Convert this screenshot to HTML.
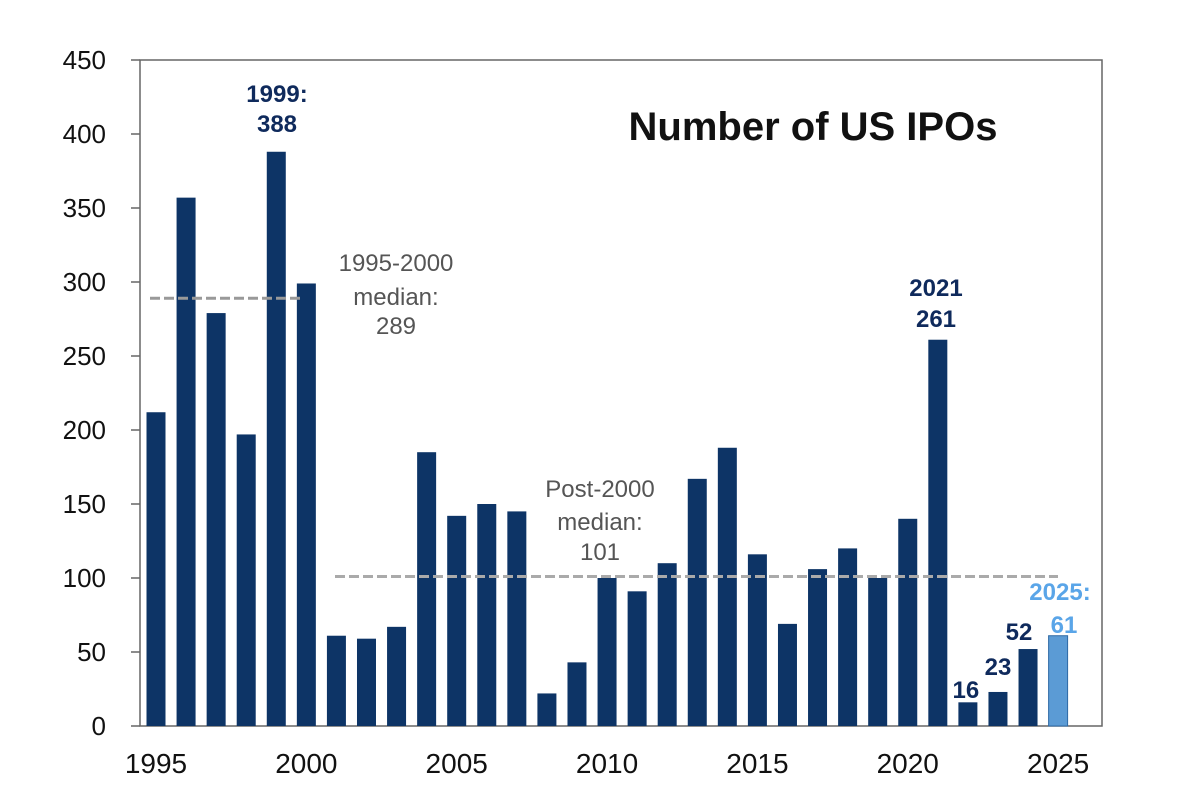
<!DOCTYPE html>
<html><head><meta charset="utf-8"><style>
body{margin:0;background:#fff;width:1182px;height:804px;overflow:hidden;font-family:"Liberation Sans",Arial,sans-serif}
</style></head><body>
<svg id="chart" width="1182" height="804" xmlns="http://www.w3.org/2000/svg" font-family="Liberation Sans, Arial, sans-serif"></svg>
<script>
const years=[1995,1996,1997,1998,1999,2000,2001,2002,2003,2004,2005,2006,2007,2008,2009,2010,2011,2012,2013,2014,2015,2016,2017,2018,2019,2020,2021,2022,2023,2024,2025];
const ipos=[212,357,279,197,388,299,61,59,67,185,142,150,145,22,43,100,91,110,167,188,116,69,106,120,100,140,261,16,23,52,61];
const yTicks=[0,50,100,150,200,250,300,350,400,450];
const xTickYears=[1995,2000,2005,2010,2015,2020,2025];
const medianPre=289, medianPost=101;
const NS='http://www.w3.org/2000/svg';
const svg=document.getElementById('chart');
const L=140,R=1102,B=726,T=60;
const y=v=>B-v*(B-T)/450;
const x=yr=>156+(yr-1995)*30.07;
function el(t,a,txt){const e=document.createElementNS(NS,t);for(const k in a)e.setAttribute(k,a[k]);if(txt!==undefined)e.textContent=txt;svg.appendChild(e);return e;}
let f=el('rect',{x:L,y:T,width:R-L,height:B-T,fill:'none',stroke:'#666','stroke-width':1.5});


yTicks.forEach(v=>{
 let t=el('line',{x1:L-9,x2:L,y1:y(v),y2:y(v),stroke:'#666','stroke-width':1.5});
 
 
 let l=el('text',{x:106,y:y(v)+9,'text-anchor':'end','font-size':26,fill:'#111'},v);
 
 
});
xTickYears.forEach(v=>{
 let l=el('text',{x:x(v),y:773,'text-anchor':'middle','font-size':28,fill:'#111'},v);
 
 
});
years.forEach((yr,i)=>{
 let b=el('rect',{x:x(yr)-9.5,y:y(ipos[i]),width:19,height:B-y(ipos[i]),fill:yr===2025?'#5b9bd5':'#0d3466',stroke:yr===2025?'#2e6aa5':'none'});
 
 
});
let m1=el('line',{x1:150,x2:300,y1:y(medianPre),y2:y(medianPre),stroke:'#999','stroke-width':3,'stroke-dasharray':'10,4'});


let m2=el('line',{x1:335,x2:1058,y1:y(medianPost),y2:y(medianPost),stroke:'#aaa','stroke-width':3,'stroke-dasharray':'10,4'});


function lab(txt,xx,yy,sz,col,w,name){let t=el('text',{x:xx,y:yy,'text-anchor':'middle','font-size':sz,fill:col,'font-weight':w},txt);}
lab('Number of US IPOs',813,140,40,'#111','bold','chart-title');
lab('1999:',277,102,24,'#0f2a5c','bold','label-1999');
lab(ipos[4],277,132,24,'#0f2a5c','bold','label-1999-value');
lab('1995-2000',396,271,24,'#555','normal','median-pre-label');
lab('median:',396,305,24,'#555','normal','median-pre-label');
lab(medianPre,396,334,24,'#555','normal','median-pre-value');
lab('Post-2000',600,497,24,'#555','normal','median-post-label');
lab('median:',600,530,24,'#555','normal','median-post-label');
lab(medianPost,600,560,24,'#555','normal','median-post-value');
lab('2021',936,296,24,'#0f2a5c','bold','label-2021');
lab(ipos[26],936,327,24,'#0f2a5c','bold','label-2021-value');
lab(ipos[27],x(2022)-2,698,24,'#0f2a5c','bold','label-2022');
lab(ipos[28],x(2023),675,24,'#0f2a5c','bold','label-2023');
lab(ipos[29],x(2024)-9,640,24,'#0f2a5c','bold','label-2024');
lab('2025:',1060,600,24,'#5aa5e8','bold','label-2025');
lab(ipos[30],1064,633,24,'#5aa5e8','bold','label-2025-value');
</script>
</body></html>
